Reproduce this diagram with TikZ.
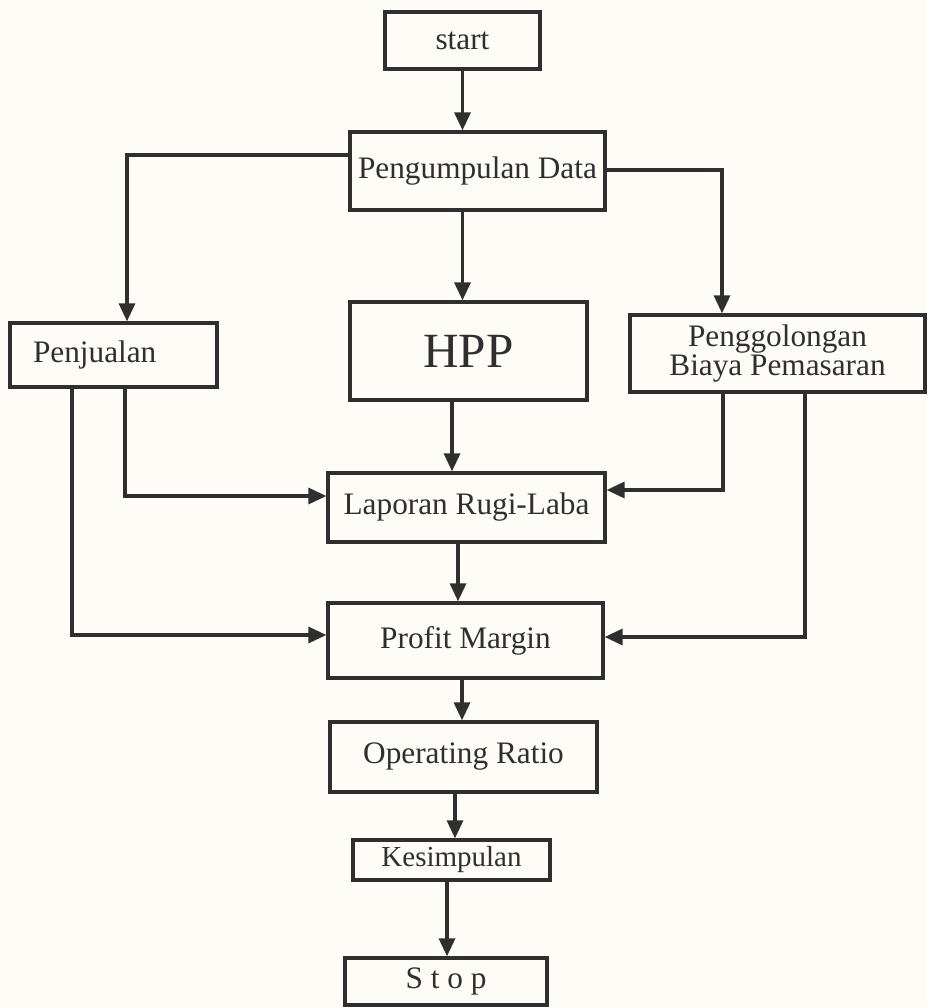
\documentclass[tikz,border=0pt]{standalone}
\usepackage{fontspec}
\setmainfont{Liberation Serif}
\usetikzlibrary{arrows.meta}
\definecolor{ink}{HTML}{2F2F2F}
\definecolor{paper}{HTML}{FDFCF7}

\begin{document}
\begin{tikzpicture}[x=0.02cm,y=-0.02cm,>={Triangle[length=0.36cm,width=0.32cm]},
  box/.style={draw=ink,line width=1.9pt,text=ink,inner sep=0pt,align=center,font=\fontsize{17.8}{17}\selectfont},
  flow/.style={->,draw=ink,line width=1.9pt}]
\fill[paper] (0,0) rectangle (927,1007);
\useasboundingbox (0,0) rectangle (927,1007);
\node[box,minimum width=3.1cm,minimum height=1.14cm] (start) at (462.5,40.5) {start};
\node[box,minimum width=5.1cm,minimum height=1.56cm] (kumpul) at (477.5,171) {\raisebox{-0.1cm}{Pengumpulan Data}};
\node[box,minimum width=4.14cm,minimum height=1.28cm,text width=3.22cm,align=left] (jual) at (113.5,355) {Penjualan};
\node[box,minimum width=4.74cm,minimum height=1.96cm,font=\fontsize{28}{30}\selectfont] (hpp) at (468.5,351) {HPP};
\node[box,minimum width=5.9cm,minimum height=1.54cm] (golong) at (777.5,353.5) {Penggolongan\\Biaya Pemasaran};
\node[box,minimum width=5.54cm,minimum height=1.38cm] (laba) at (466.5,507.5) {Laporan Rugi-Laba};
\node[box,minimum width=5.5cm,minimum height=1.5cm] (profit) at (465.5,640.5) {Profit Margin};
\node[box,minimum width=5.34cm,minimum height=1.4cm] (oprasio) at (463.5,757) {Operating Ratio};
\node[box,minimum width=3.94cm,minimum height=0.8cm,font=\fontsize{16.5}{18}\selectfont] (simpul) at (451.5,860) {Kesimpulan};
\node[box,minimum width=4.04cm,minimum height=0.94cm] (stop) at (446,981.5) {S t o p};
\draw[flow] (start.south) -- (start.south |- kumpul.north);
\draw[flow] ([yshift=0.32cm]kumpul.west) -| ([xshift=0.27cm]jual.north);
\draw[flow] ([yshift=0.02cm]kumpul.east) -| ([xshift=-1.11cm]golong.north);
\draw[flow] ([xshift=-0.3cm]kumpul.south) -- ([xshift=-0.3cm]kumpul.south |- hpp.north);
\draw[flow] ([xshift=-0.33cm]hpp.south) -- ([xshift=-0.33cm]hpp.south |- laba.north);
\draw[flow] ([xshift=-0.17cm]laba.south) -- ([xshift=-0.17cm]laba.south |- profit.north);
\draw[flow] ([xshift=-0.07cm]profit.south) -- ([xshift=-0.07cm]profit.south |- oprasio.north);
\draw[flow] ([xshift=-0.17cm]oprasio.south) -- ([xshift=-0.17cm]oprasio.south |- simpul.north);
\draw[flow] ([xshift=-0.09cm]simpul.south) -- ([xshift=-0.09cm]simpul.south |- stop.north);
\draw[flow] ([xshift=0.23cm]jual.south) |- ([yshift=0.23cm]laba.west);
\draw[flow] ([xshift=-0.83cm]jual.south) |- ([yshift=0.11cm]profit.west);
\draw[flow] ([xshift=-1.09cm]golong.south) |- ([yshift=0.35cm]laba.east);
\draw[flow] ([xshift=0.55cm]golong.south) |- ([yshift=0.07cm]profit.east);
\end{tikzpicture}
\end{document}
